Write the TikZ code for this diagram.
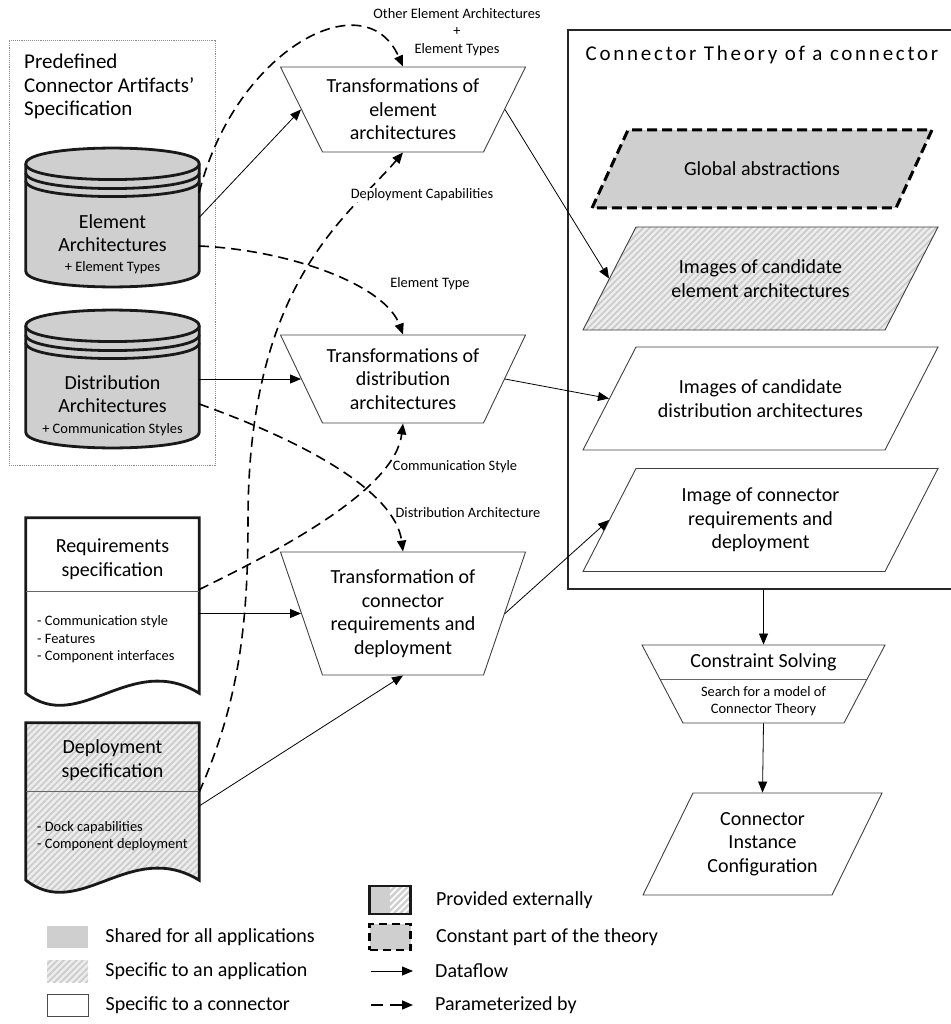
\documentclass[tikz,border=0pt]{standalone}
\usepackage{fontspec}
\setmainfont{Carlito}
\newfontfamily\spacedfont[LetterSpace=13]{Carlito}
\usetikzlibrary{shapes.geometric,arrows.meta,positioning,backgrounds,patterns.meta}

\newcommand\mainsz{\fontsize{20}{23.5}\selectfont}
\newcommand\smallsz{\fontsize{14.4}{17.5}\selectfont}
\newcommand\titlesz{\fontsize{21}{23.5}\selectfont}

\tikzset{
  trans/.style={draw=black!75,line width=0.9pt,trapezium,shape border rotate=180,
                inner xsep=80.5pt},
  para/.style={draw=black!75,line width=0.9pt,trapezium,
                inner xsep=124.5pt,inner ysep=51.5pt,
                trapezium left angle=62.77,trapezium right angle=117.23},
  holder/.style={minimum width=173pt,inner sep=0pt},
  heavy/.style={line width=2.8pt,draw=black!90},
  shared/.style={fill=black!19},
  hatch/.style={preaction={fill=black!7},
                pattern={Lines[angle=45,distance=4.5pt,line width=1.8pt]},pattern color=black!20},
  arr/.style={-{Triangle[length=11pt,width=9pt]},line width=0.8pt},
  par/.style={-{Triangle[length=11pt,width=9pt]},line width=1.6pt,dash pattern=on 10pt off 6pt},
  lbl/.style={font=\smallsz,inner sep=1pt,align=center},
  txt/.style={font=\mainsz,align=center,inner sep=0pt},
  legtxt/.style={font=\mainsz,inner sep=0pt},
  legbox/.style={minimum width=41pt,minimum height=22pt,inner sep=0pt},
}

\begin{document}
\begin{tikzpicture}[x=1pt,y=-1pt]
  \useasboundingbox (0,0) rectangle (950,1024);

  % predefined artifacts
  \node[draw=black!45,line width=0.9pt,densely dotted,minimum width=206pt,
        minimum height=425pt,inner sep=0pt] (predef) at (112,252.5) {};
  \node[font=\titlesz,align=left,anchor=north west,inner sep=0pt] (predeftitle)
        at (24,54) {Predefined\\Connector Artifacts'\\Specification};

  \node[holder,minimum height=139pt] (ea) at (112.5,217.5) {};
  \node[holder,minimum height=138pt] (da) at (112.5,379) {};
  \node[txt] (eatxt) at (112.5,233) {Element\\Architectures};
  \node[lbl] (eanote) at (112.5,268) {+ Element Types};
  \node[txt] (datxt) at (112.5,394) {Distribution\\Architectures};
  \node[lbl] (danote) at (112.5,430) {+ Communication Styles};

  % specifications
  \node[holder,minimum height=175pt] (req) at (112.5,605.5) {};
  \node[holder,minimum height=157pt] (dep) at (112.5,801.5) {};
  \node[txt] (reqtxt) at (112.5,559) {Requirements\\specification};
  \node[lbl,align=left,anchor=west] (reqitems) at (36,639.5)
        {- Communication style\\- Features\\- Component interfaces};
  \node[txt] (deptxt) at (112.5,760) {Deployment\\specification};
  \node[lbl,align=left,anchor=west] (depitems) at (36,836)
        {- Dock capabilities\\- Component deployment};

  \begin{scope}[on background layer]
    \foreach \cyl in {ea,da}{
      \draw[heavy,shared] ([yshift=-16pt]\cyl.north west) -- ([yshift=16pt]\cyl.south west)
          .. controls +(0,21) and +(0,21) .. ([yshift=16pt]\cyl.south east)
          -- ([yshift=-16pt]\cyl.north east)
          .. controls +(0,-21) and +(0,-21) .. ([yshift=-16pt]\cyl.north west) -- cycle;
      \foreach \d in {16,25,33}
        \draw[heavy] ([yshift=-\d pt]\cyl.north west)
            .. controls +(0,21) and +(0,21) .. ([yshift=-\d pt]\cyl.north east);
    }
    \draw[heavy,fill=white] (req.south west) -- (req.north west) -- (req.north east)
        -- (req.south east) .. controls +(-69,-42) and +(54,42) .. (req.south west) -- cycle;
    \draw[line width=0.8pt,black!60] ([yshift=-74pt]req.north west) -- ([yshift=-74pt]req.north east);
    \draw[heavy,hatch] (dep.south west) -- (dep.north west) -- (dep.north east)
        -- (dep.south east) .. controls +(-69,-42) and +(54,42) .. (dep.south west) -- cycle;
    \draw[line width=0.8pt,black!60] ([yshift=-69pt]dep.north west) -- ([yshift=-69pt]dep.north east);
  \end{scope}

  % transformations
  \node[trans,inner ysep=42.5pt,trapezium angle=63.71] (t1) at (403,109.5) {};
  \node[trans,inner ysep=44pt,trapezium angle=64.49] (t2) at (403,379) {};
  \node[trans,inner ysep=61.5pt,trapezium angle=71.15] (t3) at (403,613.5) {};
  \node[txt] (t1txt) at (t1) {Transformations of\\element\\architectures};
  \node[txt] (t2txt) at (t2) {Transformations of\\distribution\\architectures};
  \node[txt] (t3txt) at (t3) {Transformation of\\connector\\requirements and\\deployment};

  % connector theory
  \node[draw=black!85,line width=1.3pt,minimum width=390pt,minimum height=559pt,
        inner sep=0pt] (theory) at (763,309.5) {};
  \node[font=\spacedfont\titlesz,inner sep=0pt] (theorytitle) at (762,55)
        {Connector Theory of a connector};
  \node[para,shared,draw=black,line width=3pt,dash pattern=on 10pt off 5pt,
        inner xsep=134pt,inner ysep=39pt,
        trapezium left angle=65.22,trapezium right angle=114.78] (ga) at (762,169) {};
  \node[para,hatch] (iea) at (760.5,278.5) {};
  \node[para] (ida) at (760.5,398.5) {};
  \node[para] (ir) at (760.5,520) {};
  \node[txt] (gatxt) at (ga) {Global abstractions};
  \node[txt] (ieatxt) at (iea) {Images of candidate\\element architectures};
  \node[txt] (idatxt) at (ida) {Images of candidate\\distribution architectures};
  \node[txt] (irtxt) at (ir) {Image of connector\\requirements and\\deployment};

  \node[trans,inner ysep=39pt,trapezium angle=62.27,
        path picture={\draw[line width=0.8pt,black!60]
          ([yshift=-34pt]path picture bounding box.north west) --
          ([yshift=-34pt]path picture bounding box.north east);}] (cs) at (763.5,684) {};
  \node[txt] (cstitle) at (763.5,662) {Constraint Solving};
  \node[lbl] (csnote) at (763.5,701) {Search for a model of\\Connector Theory};
  \node[para,inner xsep=69.5pt,inner ysep=51pt,
        trapezium left angle=63.886,trapezium right angle=116.114] (cic) at (762.5,844) {};
  \node[txt] (cictxt) at (cic) {Connector\\Instance\\Configuration};

  % dataflow
  \draw[arr] (ea.east) -- (t1.180);
  \draw[arr] (da.east) -- (t2.180);
  \draw[arr] (req.east |- t3.180) -- (t3.180);
  \draw[arr] ([yshift=-4.5pt]dep.east) -- (t3.270);
  \draw[arr] (t1.0) -- (iea.180);
  \draw[arr] (t2.0) -- (ida.180);
  \draw[arr] (t3.0) -- (ir.180);
  \draw[arr] (theory.south -| cs.90) -- (cs.90);
  \draw[arr] (cs.270) -- (cic.90);

  % parameters
  \draw[par] ([yshift=25pt]ea.east) .. controls (235,50) and (365,-20) .. (t1.90);
  \draw[par] ([yshift=-28.5pt]ea.east) .. controls (290,250) and (385,285) .. (t2.90);
  \draw[par] ([yshift=-25pt]da.east) .. controls (300,440) and (395,490) .. (t3.90);
  \draw[par] ([yshift=16pt]req.east) .. controls (280,550) and (395,490) .. (t2.270);
  \draw[par] ([yshift=9.5pt]dep.east) .. controls (240,700) and (248,620) .. (248,520)
        .. controls (248,280) and (350,215) .. (t1.270);

  \node[lbl] (lblother) at (457,32) {Other Element Architectures\\+\\Element Types};
  \node[lbl,fill=white] (lbldeploy) at (422,195) {Deployment Capabilities};
  \node[lbl] (lbltype) at (430,284) {Element Type};
  \node[lbl] (lblstyle) at (455,467) {Communication Style};
  \node[lbl] (lbldist) at (468,513) {Distribution Architecture};

  % legend
  \node[legbox,shared] (legshared) at (67.5,937) {};
  \node[legbox,hatch] (legapp) at (67.5,971) {};
  \node[legbox,draw=black!70,line width=0.8pt] (legconn) at (67.5,1005) {};
  \node[legtxt,right=17pt of legshared] (legsharedtxt) {Shared for all applications};
  \node[legtxt,right=17pt of legapp] (legapptxt) {Specific to an application};
  \node[legtxt,right=17pt of legconn] (legconntxt) {Specific to a connector};

  \node[legbox,heavy,shared,minimum height=28pt,
        path picture={\fill[pattern={Lines[angle=45,distance=4.5pt,line width=1.8pt]},
          pattern color=white] (path picture bounding box.north)
          rectangle (path picture bounding box.south east);}] (legext) at (390,900) {};
  \node[legbox,shared,draw=black,line width=2.8pt,dash pattern=on 8pt off 5pt,
        minimum height=26pt] (legconst) at (390,937) {};
  \coordinate (flowa) at (371,971);
  \coordinate (flowb) at (413,971);
  \coordinate (parama) at (371,1005);
  \coordinate (paramb) at (413,1005);
  \draw[arr] (flowa) -- (flowb);
  \draw[par,dash pattern=on 12pt off 7pt] (parama) -- (paramb);
  \node[legtxt,right=24pt of legext] (legexttxt) {Provided externally};
  \node[legtxt,right=24pt of legconst] (legconsttxt) {Constant part of the theory};
  \node[legtxt,right=22pt of flowb] (flowtxt) {Dataflow};
  \node[legtxt,right=22pt of paramb] (paramtxt) {Parameterized by};
\end{tikzpicture}
\end{document}
